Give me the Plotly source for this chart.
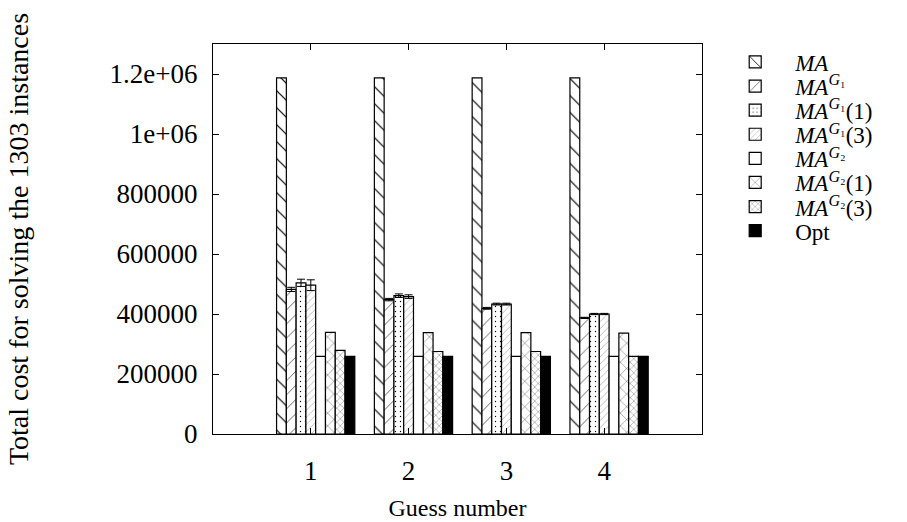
import plotly.graph_objects as go

groups = [1, 2, 3, 4]
series_names = [
    "<i>MA</i>",
    "<i>MA</i><sup><i>G</i>₁</sup>",
    "<i>MA</i><sup><i>G</i>₁</sup>(1)",
    "<i>MA</i><sup><i>G</i>₁</sup>(3)",
    "<i>MA</i><sup><i>G</i>₂</sup>",
    "<i>MA</i><sup><i>G</i>₂</sup>(1)",
    "<i>MA</i><sup><i>G</i>₂</sup>(3)",
    "Opt",
]
ma = [1187000, 1187000, 1187000, 1187000]
ma_g1 = [482000, 448000, 419000, 387000]
ma_g1_1 = [504000, 461000, 433000, 400000]
ma_g1_3 = [496000, 458000, 433000, 400000]
ma_g2 = [259000, 259000, 259000, 259000]
ma_g2_1 = [339000, 338000, 338000, 336000]
ma_g2_3 = [279000, 275000, 275000, 259000]
opt = [259000, 259000, 259000, 259000]

err_g1 = [7000, 4000, 3000, 2000]
err_g1_1 = [12000, 6000, 3000, 2000]
err_g1_3 = [18000, 6000, 3000, 2000]

values = [ma, ma_g1, ma_g1_1, ma_g1_3, ma_g2, ma_g2_1, ma_g2_3, opt]
errors = [None, err_g1, err_g1_1, err_g1_3, None, None, None, None]

ytick_vals = [0, 200000, 400000, 600000, 800000, 1000000, 1200000]
ytick_text = ["0", "200000", "400000", "600000", "800000", "1e+06", "1.2e+06"]

# styles
patterns = [
    dict(shape="\\", size=12, solidity=0.1),
    dict(shape="/", size=10, solidity=0.06),
    dict(shape=".", size=5, solidity=0.06),
    dict(shape="/", size=5, solidity=0.05),
    None,
    dict(shape="x", size=9, solidity=0.07),
    dict(shape="x", size=5, solidity=0.1),
    None,
]
fills = ["white"] * 7 + ["black"]
bar_w = 0.1

FONT = "Liberation Serif"
PLOT_TOP, PLOT_BOTTOM = 44, 434
LEG_Y0, LEG_DY = 62, 24.1

fig = go.Figure()
legend_layouts = {}
for k, (name, vals) in enumerate(zip(series_names, values)):
    marker = dict(color=fills[k], line=dict(color="black", width=1.2))
    if patterns[k] is not None:
        marker["pattern"] = dict(fgcolor="black", bgcolor="white", fillmode="replace", **patterns[k])
    err = None
    if errors[k] is not None:
        err = dict(type="data", array=errors[k], visible=True, color="black", thickness=1, width=4)
    lname = "legend" if k == 0 else f"legend{k + 1}"
    fig.add_trace(go.Bar(
        x=groups, y=vals, name=name, marker=marker,
        width=bar_w, offset=-0.35 + bar_w * k, error_y=err, legend=lname,
    ))
    ypix = LEG_Y0 + LEG_DY * k
    legend_layouts[lname] = dict(
        x=1.027, y=(PLOT_BOTTOM - ypix) / (PLOT_BOTTOM - PLOT_TOP),
        xanchor="left", yanchor="middle",
        font=dict(family=FONT, size=23), bgcolor="rgba(0,0,0,0)",
        itemwidth=70, borderwidth=0,
    )

fig.update_layout(
    width=907, height=522,
    margin=dict(l=213, r=205, t=PLOT_TOP, b=522 - PLOT_BOTTOM),
    barmode="overlay",
    plot_bgcolor="white", paper_bgcolor="white",
    font=dict(family=FONT, size=27, color="black"),
    showlegend=True,
    **legend_layouts,
)
fig.update_xaxes(
    range=[0, 5], tickvals=groups, ticktext=[str(g) for g in groups],
    showline=True, linecolor="black", linewidth=1.2, mirror="ticks",
    ticks="inside", ticklen=6, tickcolor="black", showgrid=False, zeroline=False,
    title=dict(text="Guess number", standoff=14, font=dict(size=24)),
    ticklabelstandoff=12, automargin=False,
)
fig.update_yaxes(
    range=[0, 1300000], tickvals=ytick_vals, ticktext=ytick_text,
    showline=True, linecolor="black", linewidth=1.2, mirror="ticks",
    ticks="inside", ticklen=6, tickcolor="black", showgrid=False, zeroline=False,
    title=dict(text="Total cost for solving the 1303 instances", standoff=72, font=dict(size=28)),
    ticklabelstandoff=9, automargin=False,
)

fig.write_html("out.html", config={"displayModeBar": False},
               post_script="document.body.style.margin='0px';")
